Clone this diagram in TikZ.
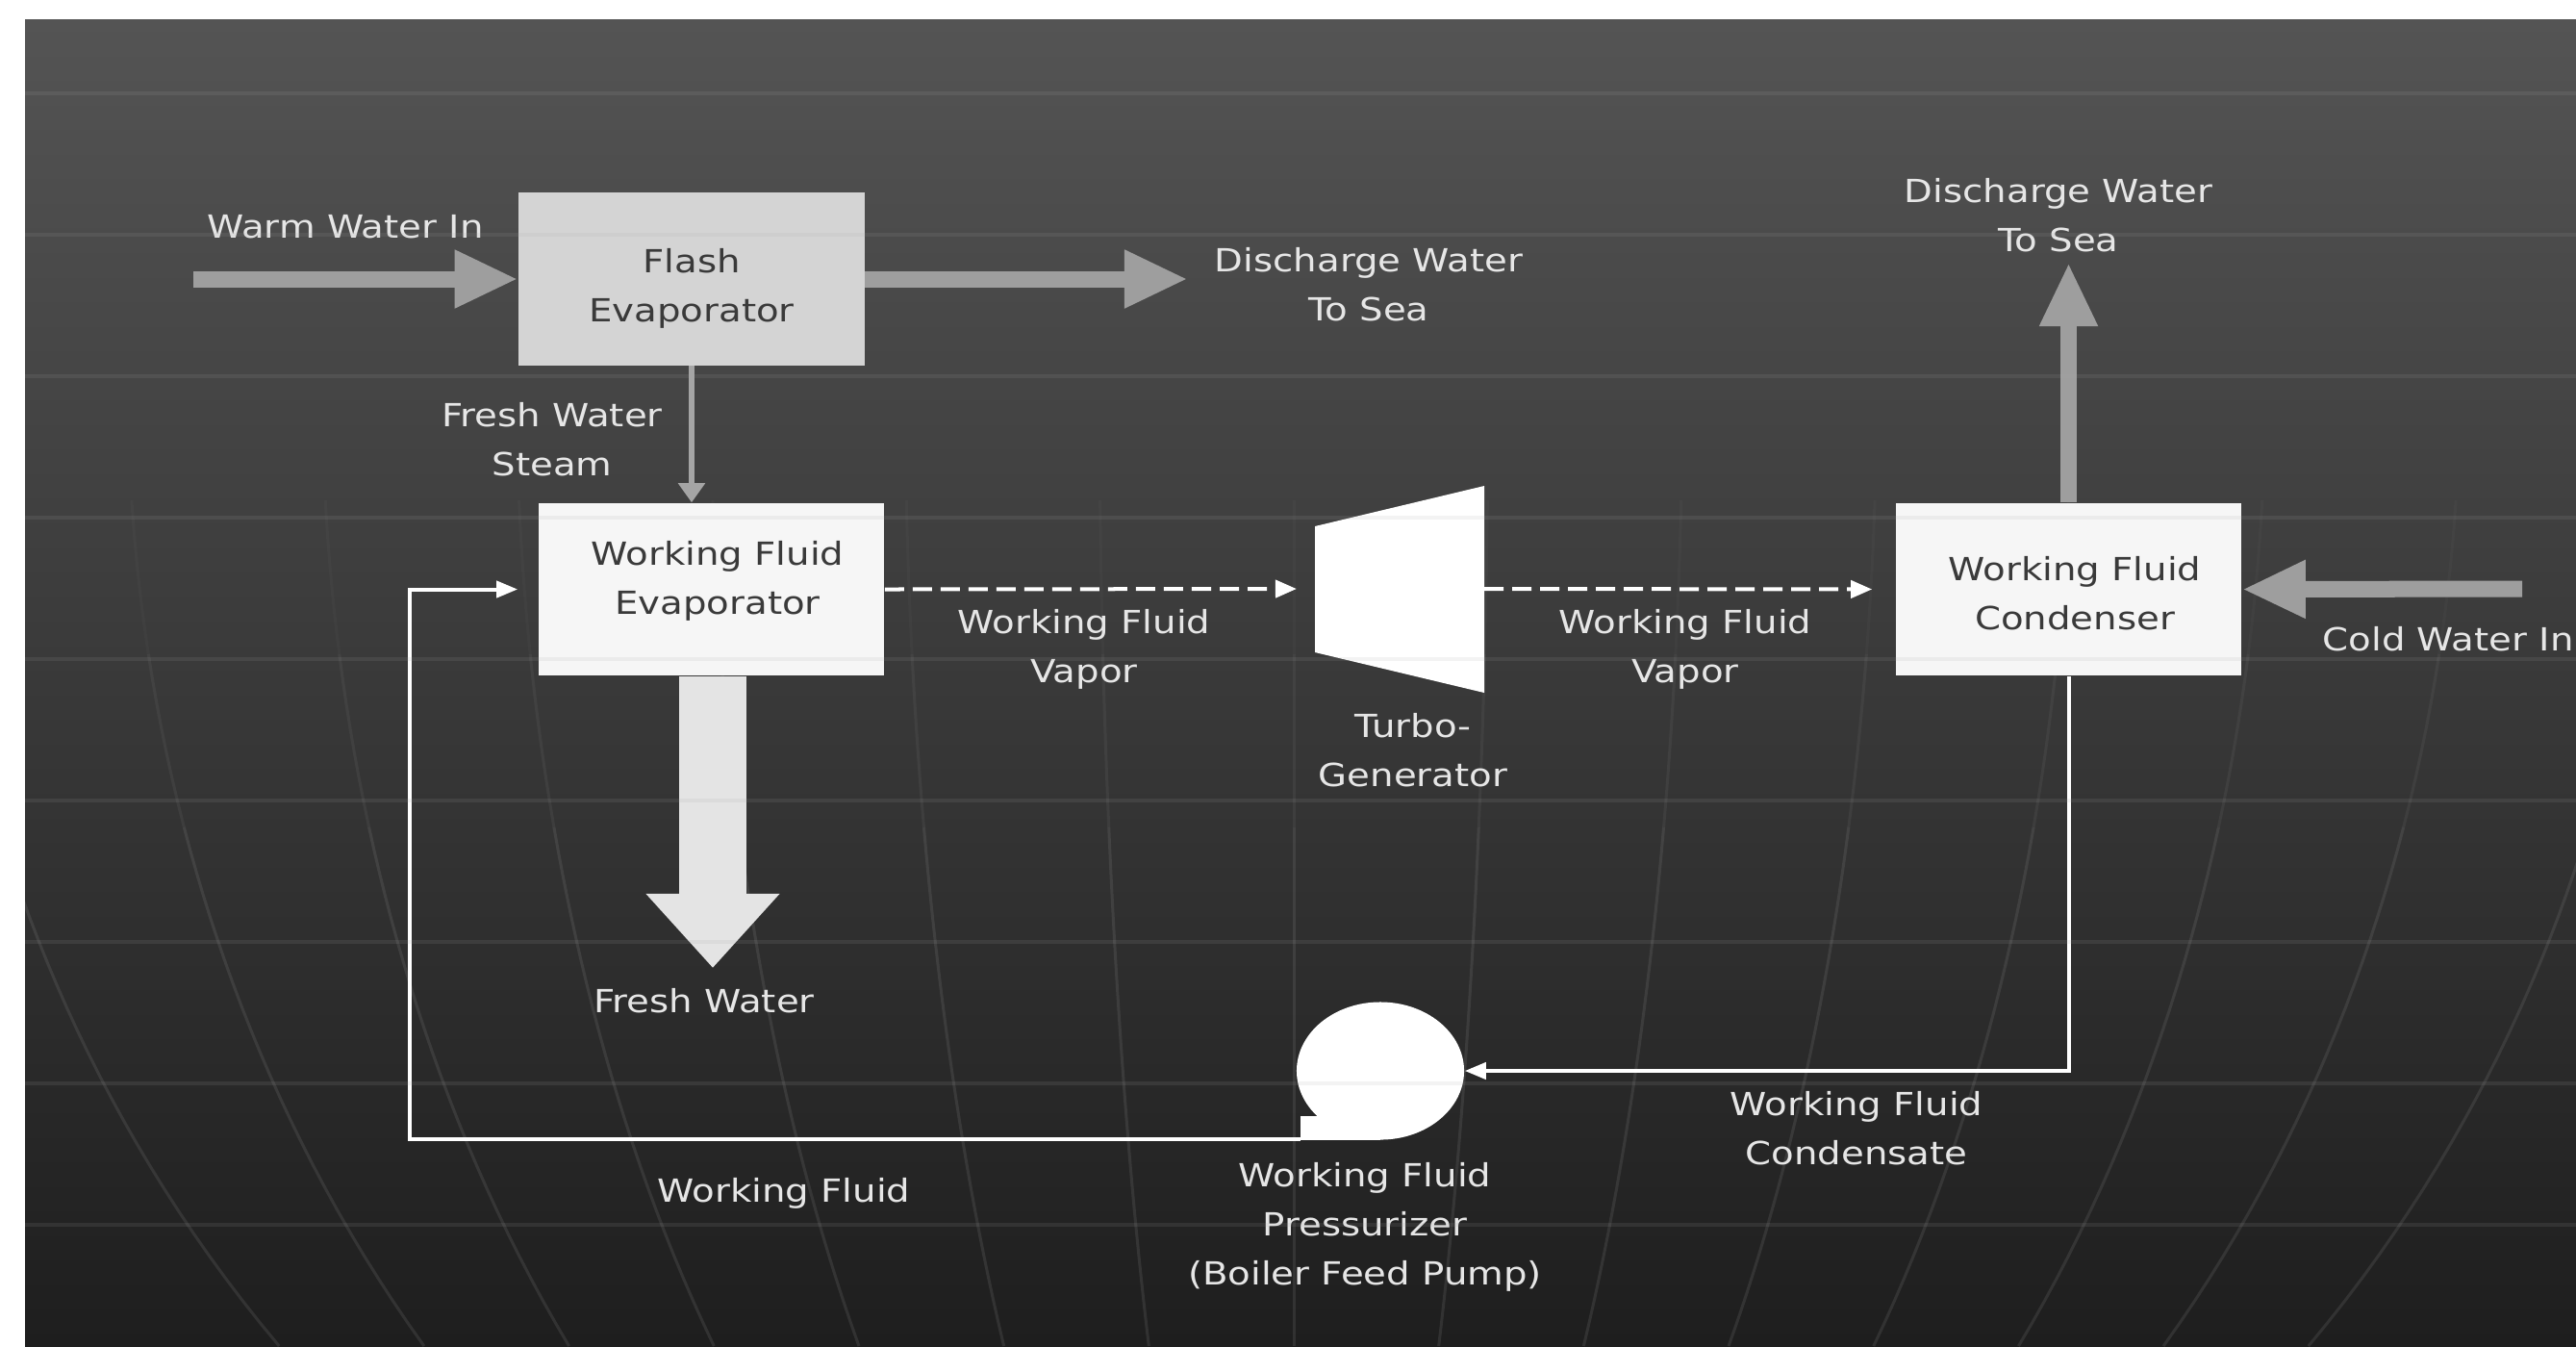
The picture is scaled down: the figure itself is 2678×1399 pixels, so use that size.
\documentclass[tikz,border=0pt]{standalone}
\usepackage{fontspec}
\usetikzlibrary{arrows.meta,shapes.geometric}
\newfontfamily\labfont[FakeStretch=1.17]{DejaVu Sans}
\definecolor{bgtop}{RGB}{84,84,84}
\definecolor{bgbot}{RGB}{30,30,30}
\definecolor{blockgray}{RGB}{158,158,158}
\definecolor{flashfill}{RGB}{212,212,212}
\definecolor{boxfill}{RGB}{246,246,246}
\definecolor{intext}{RGB}{58,58,58}
\definecolor{labtext}{RGB}{230,230,230}
\definecolor{freshfill}{RGB}{228,228,228}
\definecolor{steamgray}{RGB}{165,165,165}
\begin{document}
\begin{tikzpicture}[x=0.01cm,y=-0.01cm,
  lbl/.style={font=\labfont\fontsize{9.4pt}{14.5pt}\selectfont, text=labtext, align=center, inner sep=0pt},
  intxt/.style={font=\labfont\fontsize{9.4pt}{14.5pt}\selectfont, text=intext, align=center, inner sep=0pt},
  boxnode/.style={draw=none, minimum width=3.59cm, minimum height=1.79cm, inner sep=0pt},
  bigarrow/.style={draw=blockgray, line width=0.17cm, -{Triangle[length=0.66cm,width=0.56cm]}},
  thinarrow/.style={draw=white, line width=0.04cm, -{Triangle[length=0.22cm,width=0.17cm]}},
  vapor/.style={draw=white, line width=0.04cm, dash pattern=on 0.2cm off 0.09cm, -{Triangle[length=0.22cm,width=0.18cm]}},
  gridline/.style={draw=gray!70, line width=0.04cm, opacity=0.13},
  meridian/.style={draw=gray!80, line width=0.03cm}
]
\useasboundingbox (0,0) rectangle (2678,1399);
\begin{scope}
\clip (0,0) rectangle (2678,1399);
\fill[white] (0,0) rectangle (2678,1399);
\shade[top color=bgtop, bottom color=bgbot] (26,20) rectangle (2678,1399);

% globe meridians (clipped to the dark panel, fading upwards)
\begin{scope}
\clip (26,20) rectangle (2678,1399);
\foreach \k in {-7,...,7} {
  \draw[meridian, opacity=0.05] plot[domain=520:680, samples=8, variable=\t]
    ({1345+202*\k*sqrt(1-((\t-400)/1500)^2)}, \t);
  \draw[meridian, opacity=0.10] plot[domain=680:860, samples=8, variable=\t]
    ({1345+202*\k*sqrt(1-((\t-400)/1500)^2)}, \t);
  \draw[meridian, opacity=0.16] plot[domain=860:1399, samples=24, variable=\t]
    ({1345+202*\k*sqrt(1-((\t-400)/1500)^2)}, \t);
}
\end{scope}

% boxes
\node[boxnode, fill=flashfill] (flash) at (719,290) {};
\node[intxt] (tflash) at (719,300) {Flash\\Evaporator};
\node[boxnode, fill=boxfill] (evap) at (739.5,612.5) {};
\node[intxt] (tevap) at (746,604) {Working Fluid\\Evaporator};
\node[boxnode, fill=boxfill] (cond) at (2150.5,612.5) {};
\node[intxt] (tcond) at (2157,617) {Working Fluid\\Condenser};

% turbine
\fill[white] (1367,547) -- (1543,505) -- (1543,720) -- (1367,678) -- cycle;
\coordinate (turbL) at (1367,612);
\coordinate (turbR) at (1543,612);

% pump
\node[ellipse, fill=white, minimum width=1.74cm, minimum height=1.43cm, inner sep=0pt] (pump) at (1435,1113) {};
\fill[white] (1352,1160) rectangle (1435,1185);
\coordinate (pumpout) at (1352,1184);

% block arrows
\coordinate (warmin) at (201,290);
\draw[bigarrow] (warmin) -- (flash.west);
\coordinate (dis1) at (1235,290);
\draw[bigarrow] (flash.east) -- (dis1);
\coordinate (dis2) at (2150.5,273);
\draw[bigarrow] (cond.north) -- (dis2);
\coordinate (coldin) at (2622,612);
\draw[bigarrow] (coldin) -- (cond.east);
\coordinate (fwtip) at (741,1006);
\draw[draw=freshfill, line width=0.69cm, -{Triangle[length=0.77cm,width=1.34cm]}] (evap.south -| fwtip) -- (fwtip);

% steam
\draw[draw=steamgray, line width=0.06cm, -{Triangle[length=0.2cm,width=0.27cm]}] (flash.south) -- (flash.south |- evap.north);

% vapor
\draw[vapor, shorten >=0.19cm] (evap.east) -- (turbL);
\draw[vapor, shorten >=0.24cm] (turbR) -- (cond.west);

% condensate and return
\draw[thinarrow] (cond.south) |- (pump.east);
\coordinate (retcorner) at (426,1184);
\draw[thinarrow, shorten >=0.21cm] (pumpout) -- (retcorner) |- (evap.west);

% labels
\node[lbl] (lwarm) at (359,236) {Warm Water In};
\node[lbl] (ldis1) at (1423,296) {Discharge Water\\To Sea};
\node[lbl] (ldis2) at (2140,224) {Discharge Water\\To Sea};
\node[lbl] (lsteam) at (574,457) {Fresh Water\\Steam};
\node[lbl] (lvap1) at (1127,675) {Working Fluid\\Vapor};
\node[lbl] (lvap2) at (1752,675) {Working Fluid\\Vapor};
\node[lbl] (lturb) at (1469,780) {Turbo-\\Generator};
\node[lbl] (lfresh) at (732,1040) {Fresh Water};
\node[lbl] (lcondens) at (1930,1173) {Working Fluid\\Condensate};
\node[lbl] (lwf) at (815,1240) {Working Fluid};
\node[lbl] (lpump) at (1419,1275) {Working Fluid\\Pressurizer\\(Boiler Feed Pump)};
\node[lbl, anchor=west] (lcold) at (2414,664) {Cold Water In};

% faint horizontal grid
\foreach \yy in {97,244,391,538,685,832,979,1126,1273} {
  \draw[gridline] (26,\yy) -- (2678,\yy);
}
\end{scope}
\end{tikzpicture}
\end{document}
